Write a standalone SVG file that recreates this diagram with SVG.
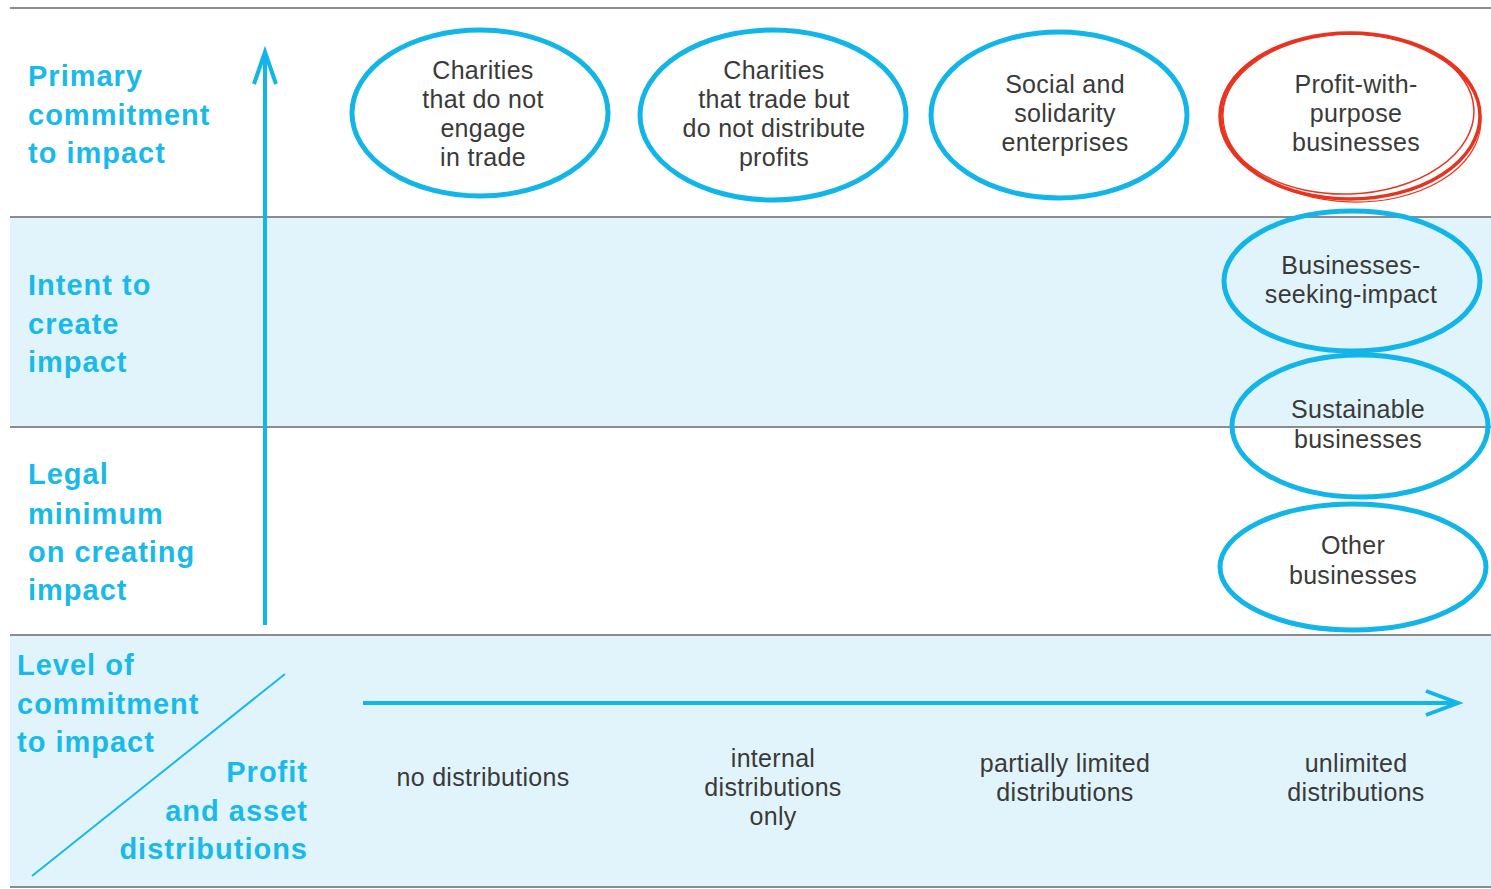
<svg xmlns="http://www.w3.org/2000/svg" width="1491" height="889" viewBox="0 0 1491 889">
<style>
.band{fill:#e1f4fb}
.rule{stroke:#8c8c8c;stroke-width:2}
.lbl{font-family:"Liberation Sans",Arial,sans-serif;font-weight:bold;font-size:29px;fill:#19b9ea;letter-spacing:1px}
.txt{font-family:"Liberation Sans",Arial,sans-serif;font-size:25px;fill:#3a3a3a;text-anchor:middle;letter-spacing:0.3px}
.ell{fill:none;stroke:#12b5e8;stroke-width:5}
.red{fill:none;stroke:#e8341f}
.axis{stroke:#12b5e8;stroke-width:4;fill:none}
</style>
<rect width="1491" height="889" fill="#ffffff"/>
<rect class="band" x="10" y="217" width="1481" height="210"/>
<rect class="band" x="10" y="635" width="1481" height="253"/>
<g id="rules">
<line class="rule" x1="10" y1="8" x2="1491" y2="8"/>
<line class="rule" x1="10" y1="217" x2="1491" y2="217"/>
<line class="rule" x1="10" y1="427" x2="1491" y2="427"/>
<line class="rule" x1="10" y1="635" x2="1491" y2="635"/>
<line class="rule" x1="10" y1="887" x2="1491" y2="887"/>
</g>
<g id="row-labels">
<text class="lbl"><tspan x="28" y="86">Primary</tspan><tspan x="28" y="125">commitment</tspan><tspan x="28" y="163">to impact</tspan></text>
<text class="lbl"><tspan x="28" y="295">Intent to</tspan><tspan x="28" y="334">create</tspan><tspan x="28" y="372">impact</tspan></text>
<text class="lbl"><tspan x="28" y="484">Legal</tspan><tspan x="28" y="524">minimum</tspan><tspan x="28" y="562">on creating</tspan><tspan x="28" y="600">impact</tspan></text>
<text class="lbl"><tspan x="17" y="675">Level of</tspan><tspan x="17" y="714">commitment</tspan><tspan x="17" y="752">to impact</tspan></text>
<text class="lbl" text-anchor="end"><tspan x="308" y="782">Profit</tspan><tspan x="308" y="821">and asset</tspan><tspan x="308" y="859">distributions</tspan></text>
</g>
<g id="connectors">
<line class="axis" x1="265" y1="625" x2="265" y2="54"/>
<polyline class="axis" points="254,84 265,52 276,84"/>
<line class="axis" x1="363" y1="703" x2="1458" y2="703"/>
<polyline class="axis" points="1426,691 1458,703 1426,715"/>
<line x1="32" y1="876" x2="285" y2="674" stroke="#19b9ea" stroke-width="2"/>
</g>
<g id="node-charities-no-trade">
<ellipse class="ell" cx="480" cy="113" rx="128" ry="83"/>
<text class="txt"><tspan x="483" y="79">Charities</tspan><tspan x="483" y="108">that do not</tspan><tspan x="483" y="137">engage</tspan><tspan x="483" y="166">in trade</tspan></text>
</g>
<g id="node-charities-trade">
<ellipse class="ell" cx="773" cy="115" rx="133" ry="85"/>
<text class="txt"><tspan x="774" y="79">Charities</tspan><tspan x="774" y="108">that trade but</tspan><tspan x="774" y="137">do not distribute</tspan><tspan x="774" y="166">profits</tspan></text>
</g>
<g id="node-social-solidarity">
<ellipse class="ell" cx="1059" cy="115" rx="128" ry="83"/>
<text class="txt"><tspan x="1065" y="93">Social and</tspan><tspan x="1065" y="122">solidarity</tspan><tspan x="1065" y="151">enterprises</tspan></text>
</g>
<g id="node-profit-with-purpose">
<ellipse class="red" stroke-width="3.5" cx="1350" cy="116" rx="130" ry="83"/>
<ellipse class="red" stroke-width="1.5" cx="1348" cy="114" rx="126" ry="80" transform="rotate(-2 1348 114)"/>
<ellipse class="red" stroke-width="1.2" cx="1352" cy="118" rx="129" ry="84" transform="rotate(2 1352 118)"/>
<text class="txt"><tspan x="1356" y="93">Profit-with-</tspan><tspan x="1356" y="122">purpose</tspan><tspan x="1356" y="151">businesses</tspan></text>
</g>
<g id="node-businesses-seeking-impact">
<ellipse class="ell" cx="1352" cy="281" rx="128" ry="70"/>
<text class="txt"><tspan x="1351" y="274">Businesses-</tspan><tspan x="1351" y="303">seeking-impact</tspan></text>
</g>
<g id="node-sustainable">
<ellipse class="ell" cx="1360" cy="426" rx="128" ry="71"/>
<text class="txt"><tspan x="1358" y="418">Sustainable</tspan><tspan x="1358" y="448">businesses</tspan></text>
</g>
<g id="node-other">
<ellipse class="ell" cx="1353" cy="567" rx="133" ry="63"/>
<text class="txt"><tspan x="1353" y="554">Other</tspan><tspan x="1353" y="584">businesses</tspan></text>
</g>
<g id="column-labels">
<text class="txt"><tspan x="483" y="786">no distributions</tspan></text>
<text class="txt"><tspan x="773" y="767">internal</tspan><tspan x="773" y="796">distributions</tspan><tspan x="773" y="825">only</tspan></text>
<text class="txt"><tspan x="1065" y="772">partially limited</tspan><tspan x="1065" y="801">distributions</tspan></text>
<text class="txt"><tspan x="1356" y="772">unlimited</tspan><tspan x="1356" y="801">distributions</tspan></text>
</g>
</svg>
